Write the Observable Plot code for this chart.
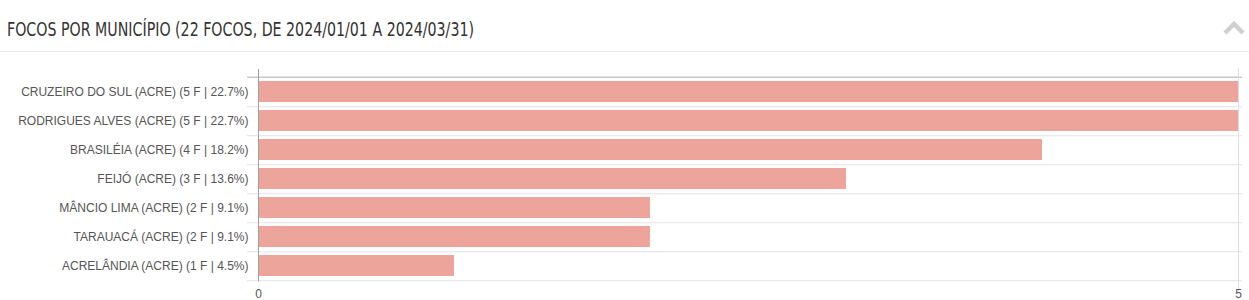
<!DOCTYPE html>
<html>
<head>
<meta charset="utf-8">
<script src="https://cdn.jsdelivr.net/npm/d3@7"></script>
<script src="https://cdn.jsdelivr.net/npm/@observablehq/plot@0.6"></script>
<style>
  html, body { margin: 0; padding: 0; background: #fff; overflow: hidden; }
  #wrap { width: 1249px; height: 300px; position: relative; }
  #head { position: absolute; left: 0; top: 0; width: 1249px; height: 51px; border-bottom: 1px solid #e6e6e6; }
  #title { position: absolute; left: 7px; top: 17px; font-family: "DejaVu Sans Condensed", "DejaVu Sans"; font-size: 20px; color: #333; white-space: nowrap; transform-origin: 0 0; }
  #chev { position: absolute; left: 1222px; top: 20px; }
  #chart { position: absolute; left: 0; top: 52px; }
  #chart svg { display: block; }
</style>
</head>
<body>
<div id="wrap">
  <div id="head">
    <div id="title">FOCOS POR MUNICÍPIO (22 FOCOS, DE 2024/01/01 A 2024/03/31)</div>
    <svg id="chev" width="24" height="16"><path d="M3,13 L12,4 L21,13" fill="none" stroke="#d0d0d0" stroke-width="4.5"/></svg>
  </div>
  <div id="chart"></div>
</div>
<script>
const municipios = ["CRUZEIRO DO SUL", "RODRIGUES ALVES", "BRASILÉIA", "FEIJÓ", "MÂNCIO LIMA", "TARAUACÁ", "ACRELÂNDIA"];
const estado = "ACRE";
const focos = [5, 5, 4, 3, 2, 2, 1];
const percentuais = ["22.7%", "22.7%", "18.2%", "13.6%", "9.1%", "9.1%", "4.5%"];
const xTicks = [0, 5];

// fit title width to reference
const t = document.getElementById("title");
const tw = t.getBoundingClientRect().width;
t.style.transform = `scaleX(${467 / tw})`;

const data = municipios.map((m, i) => ({
  label: `${m} (${estado}) (${focos[i]} F | ${percentuais[i]})`,
  value: focos[i]
}));
const order = data.map(d => d.label);

const H = 248, mt = 23, mb = 18.5;
const step = (H - mt - mb) / order.length;

const chart = Plot.plot({
  width: 1249,
  height: H,
  marginTop: mt,
  marginBottom: mb,
  marginLeft: 258,
  marginRight: 11,
  style: { fontFamily: "Liberation Sans, Arial, sans-serif", fontSize: "12px", color: "#555", background: "#fff" },
  x: { domain: [0, 5], ticks: xTicks, tickSize: 0, label: null, tickFormat: "d" },
  y: { domain: order, paddingInner: 0.29, paddingOuter: 0.145, align: 0.5, label: null, tickSize: 0 },
  marks: [
    Plot.ruleY(data, { y: "label", dy: step / 2, stroke: "#e3e3e3", strokeWidth: 1, insetLeft: -11, insetRight: -4 }),
    Plot.ruleY(data.slice(0, 1), { y: "label", dy: -step / 2, stroke: "#c8c8c8", strokeWidth: 1.5, insetLeft: -11, insetRight: -4 }),
    Plot.ruleX([5], { stroke: "#dedede", insetTop: -7, insetBottom: -10 }),
    Plot.barX(data, { x: "value", y: "label", fill: "#eca49b" }),
    Plot.ruleX([0], { stroke: "#a0a0a0", insetTop: -6, insetBottom: 0 }),
    Plot.axisY({ tickSize: 0, tickPadding: 10, fill: "#555", fontSize: 12 }),
    Plot.axisX({ ticks: xTicks, tickSize: 0, tickPadding: 7, fill: "#555", fontSize: 12, tickFormat: "d" })
  ]
});
document.getElementById("chart").appendChild(chart);
</script>
</body>
</html>
